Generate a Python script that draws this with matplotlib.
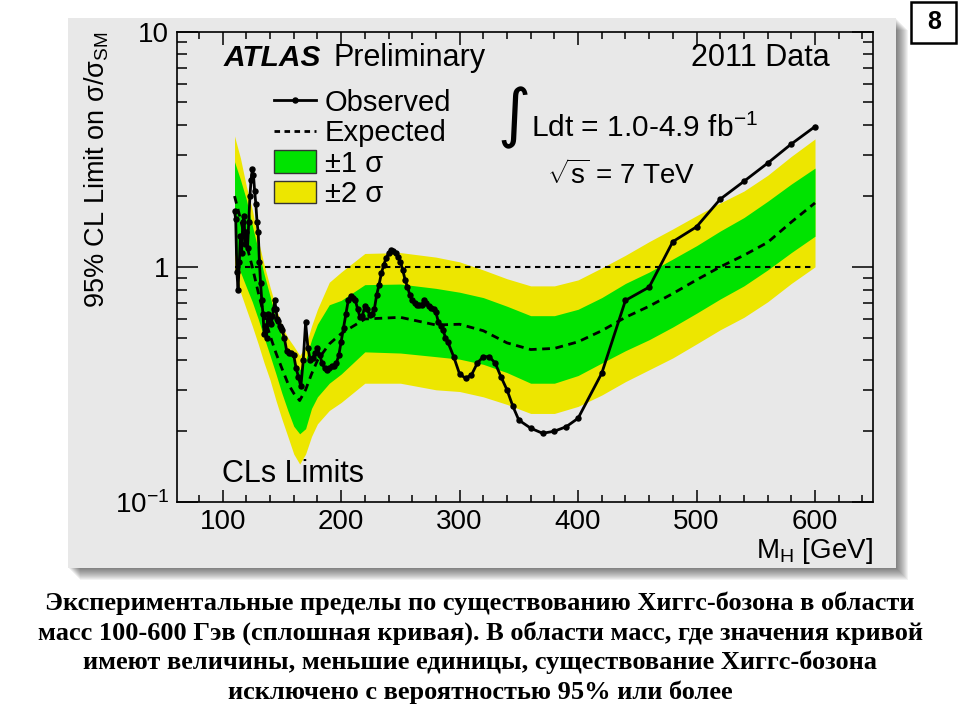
import matplotlib
matplotlib.use('Agg')
import matplotlib.pyplot as plt
from matplotlib.lines import Line2D
from matplotlib.patches import Patch, Rectangle
from matplotlib.ticker import LogLocator, NullFormatter, MultipleLocator

plt.rcParams['font.family'] = ['Liberation Sans', 'DejaVu Sans']
plt.rcParams['mathtext.fontset'] = 'custom'
plt.rcParams['mathtext.rm'] = 'Liberation Sans'
plt.rcParams['mathtext.it'] = 'Liberation Sans:italic'
plt.rcParams['mathtext.bf'] = 'Liberation Sans:bold'

# Observed limit (M_H in GeV, 95% CL limit on sigma/sigma_SM)
mass_obs = [110, 111, 112, 113, 114, 115, 116, 117, 118, 119,
            120, 121, 122, 123, 124, 125, 126, 127, 128, 129,
            130, 131, 132, 133, 134, 135, 136, 137, 138, 139,
            140, 141, 142, 143, 144, 145, 146, 147, 148, 149, 150,
            152, 154, 156, 158, 160, 162, 164, 166, 168, 170,
            172, 174, 176, 178, 180, 182, 184, 186, 188, 190,
            192, 194, 196, 198, 200, 202, 204, 206, 208, 210,
            212, 214, 216, 218, 220, 222, 224, 226, 228, 230,
            232, 234, 236, 238, 240, 242, 244, 246, 248, 250,
            252, 254, 256, 258, 260, 262, 264, 266, 268, 270,
            272, 274, 276, 278, 280, 282, 284, 286, 288, 290,
            295, 300, 305, 310, 315, 320, 325, 330, 335, 340, 345, 350,
            360, 370, 380, 390, 400,
            420, 440, 460, 480, 500, 520, 540, 560, 580, 600]
limit_obs = [1.72, 1.60, 0.95, 0.80, 1.05, 1.35, 1.15, 1.55, 1.65, 1.25,
             1.40, 1.20, 1.55, 2.00, 2.35, 2.60, 2.45, 2.10, 1.85, 1.55,
             1.40, 1.05, 0.85, 0.72, 0.63, 0.52, 0.56, 0.50, 0.63, 0.60,
             0.58, 0.57, 0.62, 0.66, 0.72, 0.66, 0.60, 0.59, 0.56, 0.55, 0.54,
             0.50, 0.44, 0.43, 0.43, 0.42, 0.37, 0.34, 0.31, 0.40, 0.58,
             0.45, 0.40, 0.41, 0.43, 0.45, 0.42, 0.39, 0.37, 0.365, 0.37,
             0.38, 0.38, 0.39, 0.42, 0.48, 0.55, 0.63, 0.72, 0.75, 0.74,
             0.72, 0.66, 0.61, 0.62, 0.68, 0.66, 0.625, 0.63, 0.66, 0.76,
             0.84, 0.94, 1.02, 1.09, 1.14, 1.18, 1.17, 1.14, 1.10, 1.05,
             0.97, 0.88, 0.82, 0.76, 0.72, 0.70, 0.69, 0.69, 0.69, 0.72,
             0.70, 0.68, 0.67, 0.66, 0.64, 0.585, 0.56, 0.54, 0.50, 0.48,
             0.415, 0.35, 0.336, 0.347, 0.39, 0.415, 0.415, 0.39, 0.34, 0.30, 0.255, 0.223,
             0.206, 0.196, 0.20, 0.209, 0.227,
             0.353, 0.72, 0.82, 1.28, 1.48, 1.94, 2.31, 2.76, 3.33, 3.95]

# Expected limit and bands
mass_exp = [110, 115, 120, 125, 130, 135, 140, 145, 150, 155, 160, 165,
            170, 175, 180, 190, 200, 220, 250, 280, 300, 320, 340, 360,
            380, 400, 420, 440, 460, 480, 500, 520, 540, 560, 580, 600]
limit_exp = [2.0, 1.6, 1.25, 1.0, 0.78, 0.62, 0.51, 0.43, 0.37, 0.32, 0.29, 0.27,
             0.30, 0.35, 0.40, 0.47, 0.52, 0.60, 0.61, 0.566, 0.57, 0.535, 0.475, 0.445,
             0.45, 0.48, 0.535, 0.61, 0.68, 0.77, 0.88, 1.0, 1.12, 1.27, 1.55, 1.87]
plus2 = [3.6, 2.9, 2.2, 1.75, 1.3, 1.02, 0.82, 0.67, 0.56, 0.50, 0.46, 0.42,
         0.46, 0.56, 0.66, 0.86, 0.95, 1.14, 1.15, 1.10, 1.05, 0.97, 0.89, 0.83,
         0.83, 0.88, 0.99, 1.12, 1.28, 1.45, 1.65, 1.87, 2.1, 2.45, 2.95, 3.5]
plus1 = [2.8, 2.35, 1.93, 1.5, 1.18, 0.93, 0.75, 0.60, 0.50, 0.44, 0.40, 0.365,
         0.40, 0.49, 0.57, 0.69, 0.72, 0.84, 0.845, 0.81, 0.78, 0.74, 0.68, 0.62,
         0.62, 0.66, 0.74, 0.85, 0.95, 1.08, 1.23, 1.42, 1.62, 1.9, 2.25, 2.63]
minus1 = [1.15, 0.95, 0.82, 0.71, 0.60, 0.50, 0.42, 0.35, 0.29, 0.245, 0.21, 0.195,
          0.205, 0.25, 0.28, 0.32, 0.35, 0.435, 0.43, 0.415, 0.405, 0.385, 0.355, 0.32,
          0.32, 0.345, 0.39, 0.44, 0.49, 0.555, 0.635, 0.73, 0.83, 0.97, 1.15, 1.35]
minus2 = [0.98, 0.78, 0.66, 0.56, 0.47, 0.39, 0.33, 0.27, 0.225, 0.19, 0.16, 0.145,
          0.16, 0.19, 0.215, 0.245, 0.265, 0.32, 0.32, 0.30, 0.295, 0.28, 0.26, 0.238,
          0.238, 0.255, 0.285, 0.325, 0.365, 0.41, 0.47, 0.54, 0.61, 0.71, 0.85, 1.0]

x_ticks = [100, 200, 300, 400, 500, 600]
y_ticks = [0.1, 1, 10]
y_ticklabels = ['10$^{-1}$', '1', '10']

caption = ['Экспериментальные пределы по существованию Хиггс-бозона в области',
           'масс 100-600 Гэв (сплошная кривая). В области масс, где значения кривой',
           'имеют величины, меньшие единицы, существование Хиггс-бозона',
           'исключено с вероятностью 95% или более']

GREEN = '#00e300'
YELLOW = '#ede600'
PANEL = '#e8e8e8'

W, H = 960, 720


def fx(x):
    return x / W


def fy(y):
    return 1 - y / H


fig = plt.figure(figsize=(9.6, 7.2), dpi=100)
fig.patch.set_facecolor('white')

# grey panel with a soft shadow
x0, y0, x1, y1 = 68, 18, 896, 568
for d in range(1, 13):
    fig.patches.append(Rectangle((fx(x0 + d), fy(y1 + d)), (x1 - x0) / W, (y1 - y0) / H,
                                 transform=fig.transFigure, facecolor='black',
                                 alpha=0.05, lw=0, zorder=-2))
fig.patches.append(Rectangle((fx(x0), fy(y1)), (x1 - x0) / W, (y1 - y0) / H,
                             transform=fig.transFigure, facecolor=PANEL, lw=0, zorder=-1))

# slide number box
fig.patches.append(Rectangle((fx(911), fy(43)), 45 / W, 41 / H, transform=fig.transFigure,
                             facecolor='white', edgecolor='black', lw=1.8, zorder=1))
fig.text(fx(934), fy(22), '8', ha='center', va='center', fontsize=18, fontweight='bold')

ax = fig.add_axes([fx(177.3), fy(502), (872.7 - 177.3) / W, (502 - 31.7) / H])
ax.set_zorder(5)
ax.patch.set_alpha(0)

ax.fill_between(mass_exp, minus2, plus2, color=YELLOW, lw=0, zorder=1)
ax.fill_between(mass_exp, minus1, plus1, color=GREEN, lw=0, zorder=2)
ax.plot(mass_exp, limit_exp, color='black', lw=2.0, linestyle=(0, (2.8, 2.0)), zorder=3)
ax.hlines(1, mass_obs[0], mass_obs[-1], colors='black', lw=1.5,
          linestyles=(0, (2.6, 2.2)), zorder=3)
ax.plot(mass_obs, limit_obs, color='black', lw=2.0, marker='o', ms=3.6, zorder=4)

ax.set_yscale('log')
ax.set_xlim(61.7, 648.7)
ax.set_ylim(0.1, 10)
ax.set_xticks(x_ticks)
ax.set_xticklabels([str(t) for t in x_ticks])
ax.xaxis.set_minor_locator(MultipleLocator(20))
ax.set_yticks(y_ticks)
ax.set_yticklabels(y_ticklabels)
ax.yaxis.set_minor_locator(LogLocator(base=10, subs=range(2, 10)))
ax.yaxis.set_minor_formatter(NullFormatter())

ax.tick_params(which='both', direction='in', top=True, right=True, width=1.1,
               labelsize=20, colors='black')
ax.tick_params(axis='x', which='major', length=9, pad=5)
ax.tick_params(axis='x', which='minor', length=5)
ax.tick_params(axis='y', which='major', length=15, pad=6)
ax.tick_params(axis='y', which='minor', length=7)
for s in ax.spines.values():
    s.set_linewidth(1.2)

ax.set_ylabel('95% CL Limit on σ/σ$_{\\mathrm{SM}}$', fontsize=19.5, loc='top')
ax.yaxis.set_label_coords(-0.095, 1.0)
ax.set_xlabel('M$_{\\mathrm{H}}$ [GeV]', fontsize=20, loc='right')
ax.xaxis.set_label_coords(1.0, -0.072)

# legend
handles = [Line2D([], [], color='black', lw=2, marker='o', ms=3.6),
           Line2D([], [], color='black', lw=2, linestyle=(0, (2.0, 1.6))),
           Patch(facecolor=GREEN, edgecolor='#333333', lw=1.0),
           Patch(facecolor=YELLOW, edgecolor='#333333', lw=1.0)]
labels = ['Observed', 'Expected', '±1 σ', '±2 σ']
ax.legend(handles, labels, loc='upper left', bbox_to_anchor=(fx(274), fy(89)),
          bbox_transform=fig.transFigure, frameon=False, fontsize=21,
          handlelength=1.45, handleheight=0.8, handletextpad=0.3,
          labelspacing=0.08, borderpad=0, borderaxespad=0, numpoints=1)

# labels inside the frame
fig.text(fx(224), fy(58), 'ATLAS', fontsize=21.5, fontweight='bold', style='italic',
         va='center')
fig.text(fx(333), fy(58), 'Preliminary', fontsize=22, va='center')
fig.text(fx(830), fy(58), '2011 Data', fontsize=22, ha='right', va='center')
fig.text(fx(514), fy(118), '∫', fontsize=46, ha='center', va='center',
         family='DejaVu Sans')
fig.text(fx(531), fy(128), 'Ldt = 1.0-4.9 fb$^{-1}$', fontsize=21.5, va='center')
fig.text(fx(547), fy(175), '$\\sqrt{\\mathrm{s}}$ = 7 TeV', fontsize=20, va='center')
fig.text(fx(222), fy(474), 'CLs Limits', fontsize=22, va='center')

# caption
for i, line in enumerate(caption):
    fig.text(0.5, fy(603 + 29.7 * i), line, ha='center', va='center', fontsize=19,
             fontweight='bold', family='Liberation Serif')

fig.savefig('out.png', dpi=100)
